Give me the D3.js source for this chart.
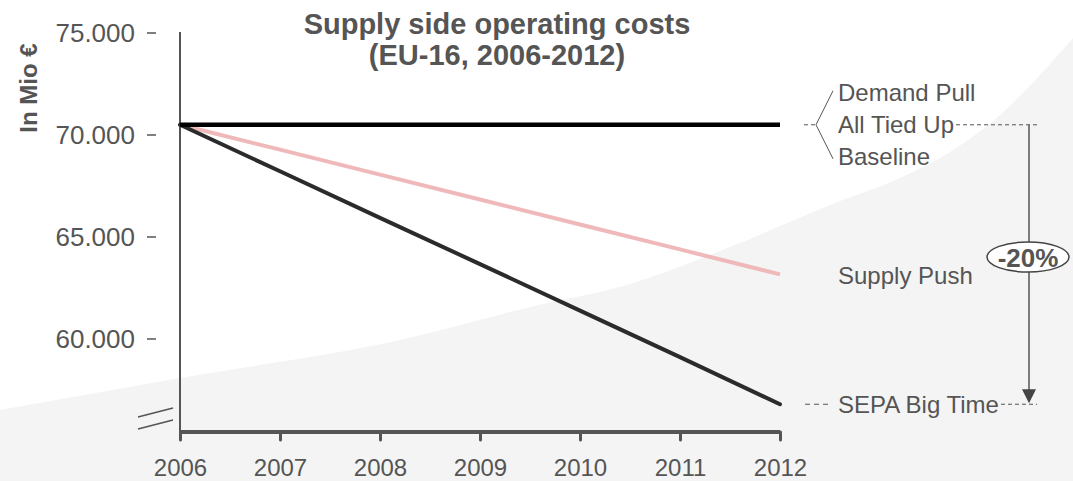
<!DOCTYPE html>
<html>
<head>
<meta charset="utf-8">
<script src="https://cdn.jsdelivr.net/npm/d3@7"></script>
<style>
  html, body { margin: 0; padding: 0; background: #ffffff; }
  svg { display: block; font-family: "Liberation Sans", Arial, Helvetica, sans-serif; }
</style>
</head>
<body>
<svg id="chart" width="1073" height="481"></svg>
<script>
// ---- data ----
const years = [2006, 2007, 2008, 2009, 2010, 2011, 2012];
const baseline = [70500, 70500, 70500, 70500, 70500, 70500, 70500];
const supplyPush = [70500, 69280, 68060, 66840, 65610, 64390, 63170];
const sepaBigTime = [70500, 68220, 65940, 63670, 61390, 59110, 56800];
const yTicks = [60000, 65000, 70000, 75000];
const titleLines = ["Supply side operating costs", "(EU-16, 2006-2012)"];
const yLabel = "In Mio €";
const topLabels = ["Demand Pull", "All Tied Up", "Baseline"];
const supplyLabel = "Supply Push";
const sepaLabel = "SEPA Big Time";
const changeLabel = "-20%";

// ---- setup ----
const svg = d3.select("#chart");
const W = 1073, H = 481;
const textColor = "#555555";
const axisColor = "#555555";
const FONT = "\"Liberation Sans\", Arial, Helvetica, sans-serif";

const x = d3.scaleLinear().domain([2006, 2012]).range([180, 780]);
const y = d3.scaleLinear().domain([55440, 75000]).range([432, 33]);

const loc = d3.formatLocale({decimal: ",", thousands: ".", grouping: [3], currency: ["", "€"]});
const fmt = loc.format(",.0f");

// background decorative shape
const bgPts = [[0,410],[180,378],[400,340],[530,307],[630,284],[730,247],[830,205],[900,178],[950,152],[1000,115],[1040,75],[1073,38]];
const bgLine = d3.line().curve(d3.curveMonotoneX);
svg.append("path")
  .attr("d", bgLine(bgPts) + `L${W},${H}L0,${H}Z`)
  .attr("fill", "#f4f4f4");

// title
const title = svg.append("text")
  .attr("x", 497).attr("y", 34)
  .attr("text-anchor", "middle")
  .attr("font-weight", "bold")
  .attr("font-size", 29)
  .attr("fill", textColor);
titleLines.forEach((t, i) => {
  title.append("tspan").attr("x", 497).attr("dy", i === 0 ? 0 : 31).text(t);
});

// y label
svg.append("text")
  .attr("transform", "translate(37,88) rotate(-90)")
  .attr("text-anchor", "middle")
  .attr("font-weight", "bold")
  .attr("font-size", 24)
  .attr("fill", textColor)
  .text(yLabel);

// y axis line
svg.append("line")
  .attr("x1", 180).attr("x2", 180)
  .attr("y1", y(75000) - 1).attr("y2", 432)
  .attr("stroke", axisColor).attr("stroke-width", 2);

// y ticks (detached dashes + labels)
const yt = svg.append("g").selectAll("g").data(yTicks).join("g")
  .attr("transform", d => `translate(0,${y(d)})`);
yt.append("line").attr("x1", 147).attr("x2", 156).attr("y1", 0).attr("y2", 0)
  .attr("stroke", axisColor).attr("stroke-width", 1.5);
yt.append("text").attr("x", 135).attr("dy", "0.35em")
  .attr("text-anchor", "end").attr("font-size", 26).attr("fill", textColor)
  .text(d => fmt(d));

// axis break marks
svg.append("g").selectAll("line").data([0, 12]).join("line")
  .attr("x1", 138).attr("x2", 173)
  .attr("y1", d => 417 + d).attr("y2", d => 408 + d)
  .attr("stroke", axisColor).attr("stroke-width", 1.5);

// x axis
const xAxis = d3.axisBottom(x).tickValues(years).tickFormat(d3.format("d")).tickSize(8).tickPadding(19);
const gx = svg.append("g").attr("transform", "translate(0,432)").call(xAxis);
gx.select(".domain").attr("stroke", axisColor).attr("stroke-width", 4).attr("d", `M${x(2006)},0H${x(2012)}`);
gx.selectAll(".tick line").attr("stroke", axisColor).attr("stroke-width", 3).attr("stroke-linecap", "round");
gx.selectAll(".tick text").attr("font-size", 24).attr("fill", textColor).attr("font-family", FONT);

// series lines
const line = d3.line().x((d, i) => x(years[i])).y(d => y(d));
svg.append("path").attr("d", line(supplyPush)).attr("fill", "none")
  .attr("stroke", "#f0b9b9").attr("stroke-width", 4);
svg.append("path").attr("d", line(sepaBigTime)).attr("fill", "none")
  .attr("stroke", "#2b2b2b").attr("stroke-width", 4).attr("stroke-linecap", "round");
svg.append("path").attr("d", line(baseline)).attr("fill", "none")
  .attr("stroke", "#000000").attr("stroke-width", 4.5);

// right-side labels
const labX = 838;
const yb = y(baseline[6]);
const ys = y(sepaBigTime[6]);
const yp = y(supplyPush[6]);
const lab = svg.append("g").attr("font-size", 24).attr("fill", textColor);
topLabels.forEach((t, i) => {
  lab.append("text").attr("x", labX).attr("y", yb + (i - 1) * 32 + 8.5).text(t);
});
lab.append("text").attr("x", labX).attr("y", yp + 9.5).text(supplyLabel);
lab.append("text").attr("x", labX).attr("y", ys + 9).text(sepaLabel);

// brace
const ann = svg.append("g").attr("stroke", axisColor).attr("fill", "none");
ann.append("path").attr("d", `M833,${yb - 34}L816,${yb}L833,${yb + 34}`).attr("stroke-width", 1);
ann.append("line").attr("x1", 804).attr("x2", 816).attr("y1", yb).attr("y2", yb)
  .attr("stroke-width", 1).attr("stroke-dasharray", "4,3");
ann.append("line").attr("x1", 956).attr("x2", 1037).attr("y1", yb).attr("y2", yb)
  .attr("stroke-width", 1).attr("stroke-dasharray", "4,3");
ann.append("line").attr("x1", 805).attr("x2", 832).attr("y1", ys).attr("y2", ys)
  .attr("stroke-width", 1).attr("stroke-dasharray", "5,4");
ann.append("line").attr("x1", 1001).attr("x2", 1037).attr("y1", ys).attr("y2", ys)
  .attr("stroke-width", 1).attr("stroke-dasharray", "4,3");

// vertical arrow
const ax = 1029;
ann.append("line").attr("x1", ax).attr("x2", ax).attr("y1", yb).attr("y2", ys - 12)
  .attr("stroke-width", 1.5);
svg.append("path").attr("d", `M${ax - 7},${ys - 15}L${ax + 7},${ys - 15}L${ax},${ys - 1}Z`)
  .attr("fill", "#444444");

// ellipse label
const ey = 257;
svg.append("ellipse").attr("cx", 1028).attr("cy", ey).attr("rx", 41).attr("ry", 15)
  .attr("fill", "#ffffff").attr("stroke", "#444444").attr("stroke-width", 1.5);
svg.append("text").attr("x", 1028).attr("y", ey + 9.5)
  .attr("text-anchor", "middle").attr("font-weight", "bold").attr("font-size", 26)
  .attr("fill", textColor).text(changeLabel);
</script>
</body>
</html>
